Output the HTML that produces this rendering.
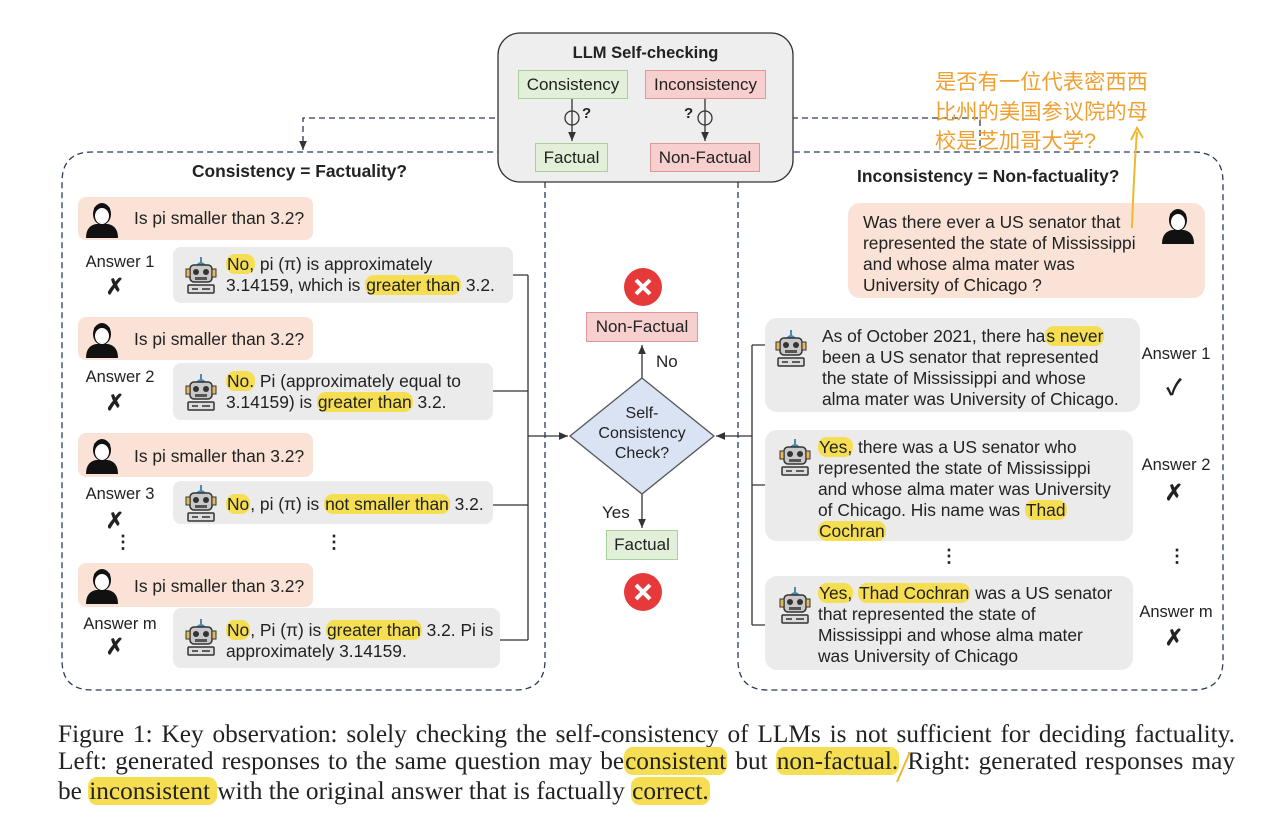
<!DOCTYPE html>
<html><head><meta charset="utf-8"><style>
body{margin:0;width:1280px;height:820px;background:#fff;position:relative;overflow:hidden;font-family:"Liberation Sans","Noto Sans CJK SC",sans-serif;color:#222}
.a{position:absolute}
.q{position:absolute;background:#fae3d6;border-radius:8px;z-index:-1}
.r{position:absolute;background:#ebebeb;border-radius:8px;z-index:-1}
.t{position:absolute;font-size:17.4px;line-height:21px;white-space:nowrap}
.h{background:#f6de52;border-radius:9px;padding:0 1px}
.lab{position:absolute;font-size:16.5px;text-align:center;width:90px}
.x{position:absolute;font-size:22px;font-weight:bold;width:20px;text-align:center}
.bx{position:absolute;font-size:17px;text-align:center;box-sizing:border-box}
.g{background:#e2efd9;border:1px solid #a9cf9a}
.p{background:#f8cfcf;border:1px solid #d99}
.cap{position:absolute;left:58px;font-family:"Liberation Serif",serif;font-size:25.3px;white-space:nowrap}
.j{width:1177px;text-align:justify;text-align-last:justify;white-space:normal}
</style></head><body>
<svg width="0" height="0" style="position:absolute"><defs>
<symbol id="hu" viewBox="0 0 36 38"><path d="M2,38 Q2,26 12,24 L24,24 Q34,26 34,38Z" fill="#111"/><ellipse cx="18" cy="14" rx="9" ry="11" fill="#111"/><ellipse cx="18" cy="16" rx="7" ry="8" fill="#fff"/><path d="M10,11 Q18,2 26,11 L26,8 Q18,0 10,8Z" fill="#111"/></symbol>
<symbol id="ro" viewBox="0 0 34 40"><path d="M17,2 V8" stroke="#4a8ab0" stroke-width="2"/><path d="M12,10 Q17,4 22,10Z" fill="#4a8ab0"/><rect x="6" y="10" width="22" height="17" rx="4" fill="#c9c9c9" stroke="#333" stroke-width="1.5"/><circle cx="12" cy="17" r="3" fill="#333"/><circle cx="22" cy="17" r="3" fill="#333"/><rect x="11" y="22" width="12" height="3" fill="#555"/><rect x="2" y="14" width="4" height="8" fill="#e6b85a" stroke="#333"/><rect x="28" y="14" width="4" height="8" fill="#e6b85a" stroke="#333"/><rect x="4" y="30" width="26" height="8" rx="1" fill="#ddd" stroke="#333" stroke-width="1.5"/><path d="M8,34 H14 M18,34 H26" stroke="#333" stroke-width="1.5"/></symbol>
</defs></svg>
<svg class="a" style="left:0;top:0" width="1280" height="820">
<defs><marker id="m" markerWidth="8" markerHeight="8" refX="7" refY="4" orient="auto"><path d="M0,1 L7,4 L0,7z" fill="#333"/></marker></defs>
<g fill="none" stroke="#2a3a5a" stroke-width="1.3" stroke-dasharray="6,4">
<path d="M545,182 V660 Q545,690 515,690 H92 Q62,690 62,660 V182 Q62,152 92,152 H500"/>
<path d="M738,182 V660 Q738,690 768,690 H1193 Q1223,690 1223,660 V182 Q1223,152 1193,152 H790"/>
<path d="M565,118 H303 V150" marker-end="url(#m)"/>
<path d="M712,118 H980 V150"/>
</g>
<rect x="498" y="33" width="295" height="149" rx="22" fill="#eeeeee" stroke="#333" stroke-width="1.3"/>
<g stroke="#333" stroke-width="1.3" fill="none">
<path d="M572,98 V141" marker-end="url(#m)"/><circle cx="572" cy="118" r="7"/>
<path d="M705,98 V141" marker-end="url(#m)"/><circle cx="705" cy="118" r="7"/>
<path d="M513,275 H528 M493,391 H528 M493,505 H528 M500,640 H528 M528,275 V640 M528,436 H568" marker-end="url(#m)"/>
<path d="M765,345 H752 M765,485 H752 M765,625 H752 M752,345 V625 M752,436 H716" marker-end="url(#m)"/>
<path d="M642,378 V345" marker-end="url(#m)"/>
<path d="M642,494 V528" marker-end="url(#m)"/>
</g>
<polygon points="642,378 714,436 642,494 570,436" fill="#dae3f3" stroke="#555" stroke-width="1.3"/>
<circle cx="643" cy="287" r="19" fill="#e63a3a"/><path d="M636,280 L650,294 M650,280 L636,294" stroke="#fff" stroke-width="4"/>
<circle cx="643" cy="592" r="19" fill="#e63a3a"/><path d="M636,585 L650,599 M650,585 L636,599" stroke="#fff" stroke-width="4"/>
<path d="M1132,228 Q1134,170 1137,132 M1131,140 L1137,128 L1143,138" stroke="#f0b830" stroke-width="2" fill="none"/>
<use href="#hu" x="84" y="200" width="36" height="38"/>
<use href="#hu" x="84" y="320" width="36" height="38"/>
<use href="#hu" x="84" y="436" width="36" height="38"/>
<use href="#hu" x="84" y="566" width="36" height="38"/>
<use href="#hu" x="1160" y="206" width="36" height="38"/>
<use href="#ro" x="184" y="255" width="34" height="40"/>
<use href="#ro" x="184" y="372" width="34" height="40"/>
<use href="#ro" x="184" y="483" width="34" height="40"/>
<use href="#ro" x="184" y="617" width="34" height="40"/>
<use href="#ro" x="774" y="328" width="34" height="40"/>
<use href="#ro" x="778" y="437" width="34" height="40"/>
<use href="#ro" x="778" y="585" width="34" height="40"/>
</svg>
<div class="a" style="left:498px;top:44px;width:295px;text-align:center;font-weight:bold;font-size:16.5px">LLM Self-checking</div>
<div class="bx g" style="left:518px;top:70px;width:110px;height:29px;line-height:27px">Consistency</div>
<div class="bx p" style="left:645px;top:70px;width:121px;height:29px;line-height:27px">Inconsistency</div>
<div class="bx g" style="left:535px;top:143px;width:73px;height:29px;line-height:27px">Factual</div>
<div class="bx p" style="left:650px;top:143px;width:110px;height:29px;line-height:27px">Non-Factual</div>
<div class="a" style="left:582px;top:105px;font-weight:bold;font-size:15px">?</div>
<div class="a" style="left:684px;top:105px;font-weight:bold;font-size:15px">?</div>
<div class="a" style="left:192px;top:161px;font-weight:bold;font-size:17.4px">Consistency = Factuality?</div>
<div class="a" style="left:857px;top:166px;font-weight:bold;font-size:17.4px">Inconsistency = Non-factuality?</div>
<div class="a" style="left:935px;top:68px;color:#f0a030;font-size:21.3px;line-height:29.5px">是否有一位代表密西西<br>比州的美国参议院的母<br>校是芝加哥大学?</div>

<div class="q" style="left:78px;top:197px;width:235px;height:43px"></div>
<div class="q" style="left:78px;top:317px;width:235px;height:43px"></div>
<div class="q" style="left:78px;top:433px;width:235px;height:44px"></div>
<div class="q" style="left:78px;top:563px;width:235px;height:44px"></div>
<div class="t" style="left:134px;top:208px">Is pi smaller than 3.2?</div>
<div class="t" style="left:134px;top:329px">Is pi smaller than 3.2?</div>
<div class="t" style="left:134px;top:446px">Is pi smaller than 3.2?</div>
<div class="t" style="left:134px;top:576px">Is pi smaller than 3.2?</div>
<div class="r" style="left:173px;top:247px;width:340px;height:56px"></div>
<div class="r" style="left:173px;top:363px;width:320px;height:57px"></div>
<div class="r" style="left:173px;top:481px;width:320px;height:43px"></div>
<div class="r" style="left:173px;top:608px;width:327px;height:60px"></div>
<div class="q" style="left:848px;top:203px;width:357px;height:95px;border-radius:12px"></div>
<div class="r" style="left:765px;top:318px;width:375px;height:94px;border-radius:12px"></div>
<div class="r" style="left:765px;top:430px;width:368px;height:111px;border-radius:12px"></div>
<div class="r" style="left:765px;top:576px;width:368px;height:94px;border-radius:12px"></div>
<div class="t" style="left:226px;top:254px"><span class="h">No,</span> pi (π) is approximately<br>3.14159, which is <span class="h">greater than</span> 3.2.</div>
<div class="t" style="left:226px;top:371px"><span class="h">No.</span> Pi (approximately equal to<br>3.14159) is <span class="h">greater than</span> 3.2.</div>
<div class="t" style="left:226px;top:494px"><span class="h">No</span>, pi (π) is <span class="h">not smaller than</span> 3.2.</div>
<div class="t" style="left:226px;top:620px"><span class="h">No</span>, Pi (π) is <span class="h">greater than</span> 3.2. Pi is<br>approximately 3.14159.</div>
<div class="lab" style="left:75px;top:253px">Answer 1</div><div class="x" style="left:105px;top:274px">✗</div>
<div class="lab" style="left:75px;top:368px">Answer 2</div><div class="x" style="left:105px;top:390px">✗</div>
<div class="lab" style="left:75px;top:485px">Answer 3</div><div class="x" style="left:105px;top:508px">✗</div>
<div class="a" style="left:114px;top:532px;font-size:18px;font-weight:bold">⋮</div>
<div class="a" style="left:325px;top:532px;font-size:18px;font-weight:bold">⋮</div>
<div class="lab" style="left:75px;top:615px">Answer m</div><div class="x" style="left:105px;top:634px">✗</div>

<div class="bx p" style="left:586px;top:312px;width:112px;height:30px;line-height:28px">Non-Factual</div>
<div class="bx g" style="left:606px;top:530px;width:72px;height:30px;line-height:28px">Factual</div>
<div class="a" style="left:570px;top:404px;width:144px;text-align:center;font-size:16px;line-height:20px">Self-<br>Consistency<br>Check?</div>
<div class="a" style="left:656px;top:352px;font-size:17px">No</div>
<div class="a" style="left:602px;top:503px;font-size:17px">Yes</div>

<div class="t" style="left:863px;top:212px">Was there ever a US senator that<br>represented the state of Mississippi<br>and whose alma mater was<br>University of Chicago ?</div>
<div class="t" style="left:822px;top:326px">As of October 2021, there ha<span class="h">s never</span><br>been a US senator that represented<br>the state of Mississippi and whose<br>alma mater was University of Chicago.</div>
<div class="t" style="left:818px;top:437px"><span class="h">Yes,</span> there was a US senator who<br>represented the state of Mississippi<br>and whose alma mater was University<br>of Chicago. His name was <span class="h">Thad</span><br><span class="h">Cochran</span></div>
<div class="t" style="left:818px;top:583px"><span class="h">Yes,</span> <span class="h">Thad Cochran</span> was a US senator<br>that represented the state of<br>Mississippi and whose alma mater<br>was University of Chicago</div>
<div class="lab" style="left:1131px;top:345px">Answer 1</div><div class="x" style="left:1164px;top:370px">✓</div>
<div class="lab" style="left:1131px;top:456px">Answer 2</div><div class="x" style="left:1164px;top:480px">✗</div>
<div class="a" style="left:940px;top:546px;font-size:18px;font-weight:bold">⋮</div>
<div class="a" style="left:1168px;top:546px;font-size:18px;font-weight:bold">⋮</div>
<div class="lab" style="left:1131px;top:603px">Answer m</div><div class="x" style="left:1164px;top:625px">✗</div>

<div class="cap j" style="top:720px">Figure 1: Key observation: solely checking the self-consistency of LLMs is not sufficient for deciding factuality.</div>
<div class="cap j" style="top:747px">Left: generated responses to the same question may be<span class="h">consistent</span> but <span class="h">non-factual.</span> Right: generated responses may</div>
<div class="cap" style="top:777px">be <span class="h">inconsistent </span>with the original answer that is factually <span class="h">correct.</span></div>
<svg class="a" style="left:0;top:0" width="1280" height="820"><path d="M897,782 L910,752" stroke="#f0b830" stroke-width="2"/></svg>
</body></html>
